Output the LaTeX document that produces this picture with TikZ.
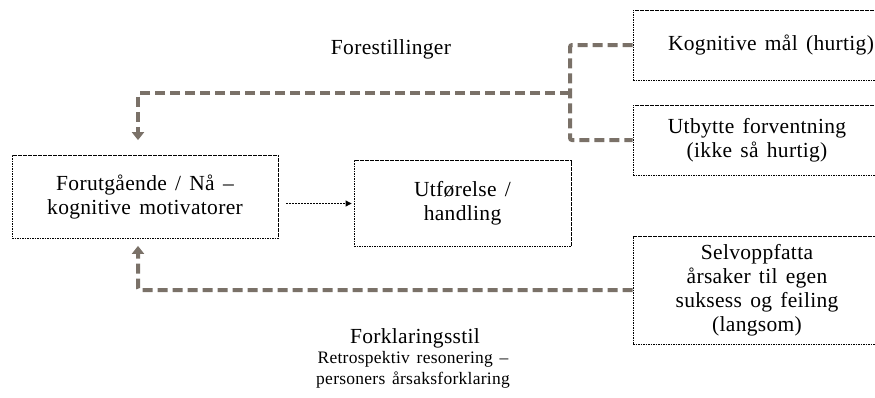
\documentclass[tikz,border=0pt]{standalone}
\usepackage{fontspec}
\setmainfont{Liberation Serif}[WordSpace=1.45, LetterSpace=1.5]
\usetikzlibrary{arrows.meta}
\definecolor{linkgrey}{HTML}{7A7168}
\tikzset{
  box/.style={draw=black, line width=0.8pt, dash pattern=on 1.6pt off 0.9pt,
    align=center, inner sep=0pt,
    font=\fontsize{21.5}{24}\selectfont},
  link/.style={draw=linkgrey, line width=4pt, dash pattern=on 10pt off 5pt,
    rounded corners=2pt},
  linkarrow/.style={link, -{Triangle[width=12pt,length=8pt]}},
  thinarrow/.style={draw=black, line width=0.8pt, dash pattern=on 2pt off 1pt,
    -{Triangle[width=6pt,length=6pt]}},
  label/.style={align=center, inner sep=0pt, font=\fontsize{21.5}{24}\selectfont},
  smalllabel/.style={align=center, inner sep=0pt, font=\fontsize{17.5}{21}\selectfont}
}
\begin{document}
\begin{tikzpicture}[x=1pt,y=-1pt]
\useasboundingbox (0,0) rectangle (875,397);

% boxes
\node[box, minimum width=266pt, minimum height=83pt] (forut) at (145,197)
  {Forutgående / Nå --\\kognitive motivatorer};
\node[box, minimum width=217pt, minimum height=86pt] (utf) at (462.5,203.5)
  {Utførelse /\\handling};
\node[box, minimum width=248pt, minimum height=70pt] (kog) at (757,45)
  {\hspace*{28pt}Kognitive mål (hurtig)};
\node[box, minimum width=248pt, minimum height=70pt] (utb) at (757,140)
  {Utbytte forventning\\(ikke så hurtig)};
\node[box, minimum width=248pt, minimum height=108pt] (selv) at (757,290)
  {Selvoppfatta\\årsaker til egen\\suksess og feiling\\(langsom)};

% labels
\node[label] (forest) at (391,49) {Forestillinger};
\node[label] (forkl) at (415,338) {Forklaringsstil};
\node[smalllabel, anchor=north] (retro) at (413,351)
  {Retrospektiv resonering --\\personers årsaksforklaring};

% connectors
\coordinate (junc) at (570,93);
\draw[link] (kog.west) -| (junc) |- (utb.west);
\draw[linkarrow, shorten >=15pt] (junc) -| ([xshift=-7pt]forut.north);
\draw[linkarrow, shorten >=7pt] (selv.west) -| ([xshift=-7pt]forut.south);
\draw[thinarrow, shorten <=8pt, shorten >=2pt] (forut.east |- utf.center) -- (utf.west);
\end{tikzpicture}
\end{document}
